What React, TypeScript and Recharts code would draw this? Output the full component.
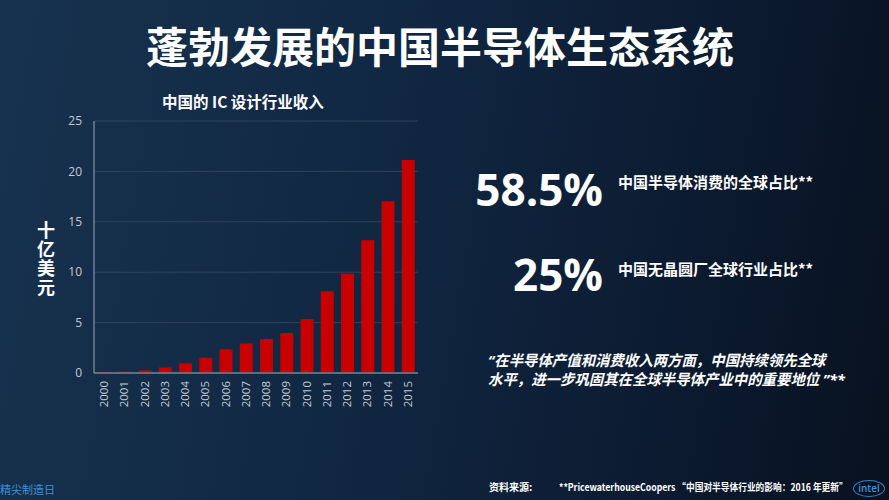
import React from 'react';
import { BarChart, Bar, XAxis, YAxis, CartesianGrid } from 'recharts';

const years = ['2000', '2001', '2002', '2003', '2004', '2005', '2006', '2007', '2008', '2009', '2010', '2011', '2012', '2013', '2014', '2015'];
const revenue = [0.1, 0.13, 0.26, 0.56, 0.96, 1.52, 2.35, 2.94, 3.37, 3.97, 5.36, 8.1, 9.85, 13.16, 17.03, 21.13];
const yTicks = [0, 5, 10, 15, 20, 25];

const pageTitle = '蓬勃发展的中国半导体生态系统';
const chartTitle = '中国的 IC 设计行业收入';
const yLabel = '十亿美元';
const stat1Value = '58.5%';
const stat1Text = '中国半导体消费的全球占比**';
const stat2Value = '25%';
const stat2Text = '中国无晶圆厂全球行业占比**';
const quoteLine1 = '“在半导体产值和消费收入两方面，中国持续领先全球';
const quoteLine2 = '水平，进一步巩固其在全球半导体产业中的重要地位 ”**';
const footerLeft = '精尖制造日';
const sourceLabel = '资料来源:';
const sourceText = '**PricewaterhouseCoopers “中国对半导体行业的影响：2016 年更新”';

const data = years.map((y, i) => ({ year: y, value: revenue[i] }));

const CJK = '"Noto Sans CJK SC", "Noto Sans", sans-serif';
const LAT = '"Open Sans", "Noto Sans CJK SC", sans-serif';

const XTick = (props: any) => {
  const { x, y, payload } = props;
  return (
    <g transform={`translate(${x},${y})`}>
      <text transform="rotate(-90)" textAnchor="end" dy="0.35em" fill="#c3cad3" fontSize={11.5} fontFamily={LAT}>
        {payload.value}
      </text>
    </g>
  );
};

export default function App() {
  return (
    <div
      style={{
        position: 'absolute',
        left: 0,
        top: 0,
        width: 889,
        height: 500,
        overflow: 'hidden',
        background: 'linear-gradient(100deg, #17324f 0%, #112843 40%, #0c1b31 75%, #08111f 100%)',
        fontFamily: CJK,
        color: '#fff',
      }}
    >
      <div
        style={{
          position: 'absolute',
          left: 0,
          width: 880,
          top: 16,
          textAlign: 'center',
          fontSize: 42,
          fontWeight: 700,
          lineHeight: '58px',
        }}
      >
        {pageTitle}
      </div>

      <div style={{ position: 'absolute', left: 162, top: 90, fontSize: 15.5, fontWeight: 700, lineHeight: '22px' }}>
        {chartTitle}
      </div>

      <div
        style={{
          position: 'absolute',
          left: 36,
          top: 221,
          fontSize: 18,
          fontWeight: 700,
          writingMode: 'vertical-rl',
          lineHeight: '20px',
          letterSpacing: 1,
        }}
      >
        {yLabel}
      </div>

      <div style={{ position: 'absolute', left: 0, top: 0 }}>
        <BarChart width={440} height={420} data={data} margin={{ top: 121, right: 22, left: 0, bottom: 0 }}>
          <CartesianGrid vertical={false} stroke="#2f445c" strokeWidth={1} yAxisId="left" />
          <XAxis
            dataKey="year"
            interval={0}
            height={47}
            tickLine={false}
            axisLine={{ stroke: '#6f8197', strokeWidth: 1.5 }}
            tick={<XTick />}
          />
          <XAxis xAxisId="top" dataKey="year" orientation="top" height={0} tick={false} tickLine={false} axisLine={{ stroke: '#6f8197', strokeWidth: 1.5 }} />
          <YAxis
            yAxisId="left"
            width={94}
            domain={[0, 25]}
            ticks={yTicks}
            tickLine={false}
            tickSize={0}
            tickMargin={12}
            axisLine={{ stroke: '#6f8197', strokeWidth: 1.5 }}
            tick={{ fill: '#c3cad3', fontSize: 12, fontFamily: LAT }}
          />
          <YAxis yAxisId="right" orientation="right" width={0} domain={[0, 25]} tick={false} tickLine={false} axisLine={{ stroke: '#6f8197', strokeWidth: 1.5 }} />
          <Bar dataKey="value" yAxisId="left" fill="#c80000" barSize={13} isAnimationActive={false} />
        </BarChart>
      </div>

      <div style={{ position: 'absolute', right: 889 - 603, top: 161, fontSize: 44, fontWeight: 700, fontFamily: LAT, lineHeight: '56px' }}>
        {stat1Value}
      </div>
      <div style={{ position: 'absolute', left: 618, top: 172, fontSize: 15, fontWeight: 700, lineHeight: '20px' }}>
        {stat1Text}
      </div>
      <div style={{ position: 'absolute', right: 889 - 603, top: 246, fontSize: 44, fontWeight: 700, fontFamily: LAT, lineHeight: '56px' }}>
        {stat2Value}
      </div>
      <div style={{ position: 'absolute', left: 618, top: 259, fontSize: 15, fontWeight: 700, lineHeight: '20px' }}>
        {stat2Text}
      </div>

      <div
        style={{
          position: 'absolute',
          left: 488,
          top: 351,
          fontSize: 15,
          fontWeight: 700,
          fontStyle: 'italic',
          fontFamily: LAT,
          lineHeight: '19px',
          whiteSpace: 'nowrap',
          transform: 'scaleX(0.96)',
          transformOrigin: 'left top',
        }}
      >
        <div>{quoteLine1}</div>
        <div>{quoteLine2}</div>
      </div>

      <div style={{ position: 'absolute', left: 0, top: 481, fontSize: 11, color: '#3f8fd6', lineHeight: '16px' }}>
        {footerLeft}
      </div>
      <div style={{ position: 'absolute', left: 489, top: 480, fontSize: 10, fontWeight: 700, lineHeight: '14px' }}>
        {sourceLabel}
      </div>
      <div
        style={{
          position: 'absolute',
          left: 559,
          top: 480,
          fontSize: 10,
          fontWeight: 700,
          lineHeight: '14px',
          whiteSpace: 'nowrap',
          transform: 'scaleX(0.87)',
          transformOrigin: 'left top',
        }}
      >
        {sourceText}
      </div>
      <div
        style={{
          position: 'absolute',
          left: 853,
          top: 480,
          width: 30,
          height: 15,
          border: '1.2px solid #2f86cc',
          borderRadius: '50%',
          color: '#3a97dd',
          fontSize: 10,
          fontFamily: LAT,
          fontWeight: 600,
          textAlign: 'center',
          lineHeight: '14px',
        }}
      >
        intel
      </div>
    </div>
  );
}
